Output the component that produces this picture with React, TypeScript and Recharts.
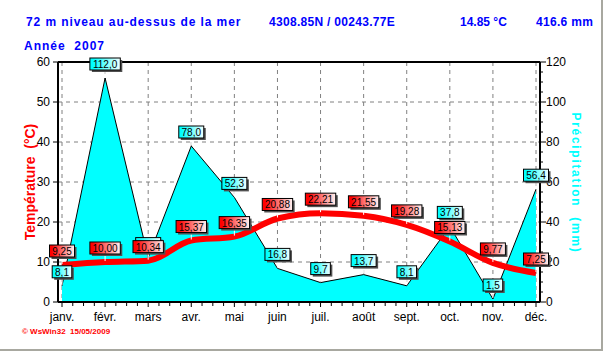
import { Area, CartesianGrid, ComposedChart, LabelList, Line, ReferenceLine, XAxis, YAxis } from "recharts"

const months = ["janv.", "févr.", "mars", "avr.", "mai", "juin", "juil.", "août", "sept.", "oct.", "nov.", "déc."]
const temperature = [9.25, 10.0, 10.34, 15.37, 16.35, 20.88, 22.21, 21.55, 19.28, 15.13, 9.77, 7.25]
const precipitation = [8.1, 112.0, 22.2, 78.0, 52.3, 16.8, 9.7, 13.7, 8.1, 37.8, 1.5, 56.4]
const tempTicks = [0, 10, 20, 30, 40, 50, 60]
const rainTicks = [0, 20, 40, 60, 80, 100, 120]
// minor ticks on the right axis every 5 mm
const rainMinorTicks = Array.from({ length: 25 }, (_, i) => i * 5)

const data = months.map((month, i) => ({ month, temp: temperature[i], rain: precipitation[i] }))

const FONT = "'Liberation Sans', Arial, sans-serif"
const STEP = (482 - 8) / 11

function ValueBox(props: any) {
  const { x, y, value, index, kind } = props
  if (x == null || y == null) return null
  const text = kind === "temp" ? Number(value).toFixed(2).replace(".", ",") : Number(value).toFixed(1).replace(".", ",")
  // the rain box sits under the temperature box when both values land on the same spot
  const hidden = kind === "rain" && Math.abs(precipitation[index] / 2 - temperature[index]) < 2
  const digits = text.length - 1
  const w = digits * 5.4 + 2.8 + 6
  const h = 12
  const bx = x - w / 2
  const by = y - 8 - h
  const id = `${kind}-grad-${index}`
  const from = kind === "temp" ? "#ff0000" : "#00ffff"
  const to = kind === "temp" ? "#fff4f4" : "#f4ffff"
  return (
    <g>
      <defs>
        <linearGradient id={id} x1="0" y1="0" x2="1" y2="0">
          <stop offset="0%" stopColor={from} />
          <stop offset="10%" stopColor={from} />
          <stop offset="100%" stopColor={to} />
        </linearGradient>
      </defs>
      <line x1={x} y1={by + h} x2={x} y2={y - 1} stroke="#fff" strokeWidth={1} />
      <rect x={bx + 2} y={by + 2} width={w} height={h} fill="#505050" />
      <rect x={bx} y={by} width={w} height={h} fill={`url(#${id})`} stroke="#000" strokeWidth={1} />
      {!hidden && (
        <text x={x} y={by + h / 2 + 0.5} textAnchor="middle" dominantBaseline="central" fontSize={10} fontFamily={FONT} fill="#000">
          {text}
        </text>
      )}
    </g>
  )
}

function MonthTick(props: any) {
  const { x, y, payload, index } = props
  const minors = index < months.length - 1 ? [1, 2, 3] : []
  return (
    <g>
      <line x1={x} y1={y} x2={x} y2={y + 5} stroke="#000" />
      {minors.map((k) => (
        <line key={k} x1={x + (k * STEP) / 4} y1={y} x2={x + (k * STEP) / 4} y2={y + 4} stroke="#000" />
      ))}
      <text x={x} y={y + 15} textAnchor="middle" dominantBaseline="central" fontSize={12} fontFamily={FONT} fill="#000">
        {payload.value}
      </text>
    </g>
  )
}

function RainTick(props: any) {
  const { x, y, payload } = props
  const major = rainTicks.includes(payload.value)
  return (
    <g>
      <line x1={x} y1={y} x2={x + (major ? 6 : 3)} y2={y} stroke="#000" />
      {major && (
        <text x={x + 6} y={y} dominantBaseline="central" fontSize={12} fontFamily={FONT} fill="#000">
          {payload.value}
        </text>
      )}
    </g>
  )
}

export default function App() {
  const blue = { position: "absolute" as const, top: 15, color: "#0000ff", fontWeight: "bold" as const, fontSize: 12, fontFamily: FONT, whiteSpace: "pre" as const }
  return (
    <div style={{ position: "absolute", left: 0, top: 0, width: 603, height: 351, background: "#fff", overflow: "hidden" }}>
      <ComposedChart width={603} height={351} data={data} margin={{ top: 62, right: 33, bottom: 19, left: 18 }}>
        <CartesianGrid yAxisId="left" stroke="#808080" strokeDasharray="4 4" />
        <XAxis
          dataKey="month"
          padding={{ left: 4, right: 4 }}
          interval={0}
          height={30}
          tickLine={false}
          tickSize={0}
          tickMargin={0}
          axisLine={{ stroke: "#000", strokeWidth: 2 }}
          tick={<MonthTick />}
        />
        <YAxis
          yAxisId="left"
          domain={[0, 60]}
          ticks={tempTicks}
          interval={0}
          width={40}
          tickSize={5}
          tickMargin={3}
          axisLine={{ stroke: "#000", strokeWidth: 2 }}
          tickLine={{ stroke: "#000" }}
          tick={{ fill: "#000", fontSize: 12, fontFamily: FONT }}
        />
        <YAxis
          yAxisId="right"
          orientation="right"
          domain={[0, 120]}
          ticks={rainMinorTicks}
          interval={0}
          width={30}
          tickSize={0}
          tickMargin={0}
          tickLine={false}
          axisLine={{ stroke: "#000", strokeWidth: 2 }}
          tick={<RainTick />}
        />
        <ReferenceLine yAxisId="left" y={60} stroke="#000" strokeWidth={2} />
        <Area
          yAxisId="right"
          type="linear"
          dataKey="rain"
          fill="#00ffff"
          fillOpacity={1}
          stroke="#000"
          strokeWidth={1}
          dot={false}
          activeDot={false}
          isAnimationActive={false}
        >
          <LabelList dataKey="rain" content={(p: any) => <ValueBox {...p} kind="rain" />} />
        </Area>
        <Line
          yAxisId="left"
          type="monotone"
          dataKey="temp"
          stroke="#ff0000"
          strokeWidth={6}
          dot={false}
          activeDot={false}
          isAnimationActive={false}
        >
          <LabelList dataKey="temp" content={(p: any) => <ValueBox {...p} kind="temp" />} />
        </Line>
      </ComposedChart>

      <div style={{ ...blue, left: 26, letterSpacing: 0.9 }}>72 m niveau au-dessus de la mer</div>
      <div style={{ ...blue, left: 269, letterSpacing: 0.3 }}>4308.85N / 00243.77E</div>
      <div style={{ ...blue, left: 460 }}>14.85 °C</div>
      <div style={{ ...blue, left: 536, letterSpacing: 0.3 }}>416.6 mm</div>
      <div style={{ ...blue, left: 24, top: 39, letterSpacing: 1 }}>Année  2007</div>

      <div
        style={{
          position: "absolute",
          left: 30,
          top: 182,
          transform: "translate(-50%, -50%) rotate(-90deg)",
          color: "#ff0000",
          fontWeight: "bold",
          fontSize: 14,
          fontFamily: FONT,
          whiteSpace: "pre",
        }}
      >
        Température  (°C)
      </div>
      <div
        style={{
          position: "absolute",
          left: 576,
          top: 183,
          transform: "translate(-50%, -50%) rotate(90deg)",
          color: "#00ffff",
          fontWeight: "bold",
          fontSize: 12,
          letterSpacing: 1.7,
          fontFamily: FONT,
          whiteSpace: "pre",
        }}
      >
        Précipitation  (mm)
      </div>

      <div style={{ position: "absolute", left: 22, top: 327, color: "#ff0000", fontSize: 8, fontWeight: "bold", fontFamily: FONT, whiteSpace: "pre" }}>
        © WsWin32  15/05/2009
      </div>

      <div style={{ position: "absolute", left: 601, top: 0, width: 2, height: 351, background: "#a8a8a0" }} />
      <div style={{ position: "absolute", left: 0, top: 349, width: 603, height: 2, background: "#a8a8a0" }} />
    </div>
  )
}
